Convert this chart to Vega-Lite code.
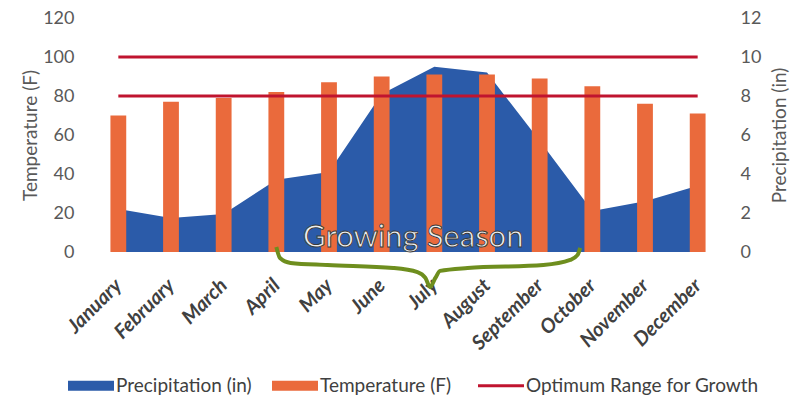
{
  "$schema": "https://vega.github.io/schema/vega-lite/v6.json",
  "width": 632,
  "height": 234,
  "autosize": "none",
  "padding": {"left": 92, "top": 18, "right": 75, "bottom": 151},
  "background": "white",
  "config": {
    "view": {"stroke": null},
    "font": "Lato",
    "axis": {"grid": false, "domain": false, "ticks": false}
  },
  "datasets": {
    "monthly": [
      {"month": "January", "precip": 2.2, "temp": 70, "optLow": 80, "optHigh": 100},
      {"month": "February", "precip": 1.75, "temp": 77, "optLow": 80, "optHigh": 100},
      {"month": "March", "precip": 1.95, "temp": 79, "optLow": 80, "optHigh": 100},
      {"month": "April", "precip": 3.7, "temp": 82, "optLow": 80, "optHigh": 100},
      {"month": "May", "precip": 4.1, "temp": 87, "optLow": 80, "optHigh": 100},
      {"month": "June", "precip": 8.1, "temp": 90, "optLow": 80, "optHigh": 100},
      {"month": "July", "precip": 9.5, "temp": 91, "optLow": 80, "optHigh": 100},
      {"month": "August", "precip": 9.2, "temp": 91, "optLow": 80, "optHigh": 100},
      {"month": "September", "precip": 5.7, "temp": 89, "optLow": 80, "optHigh": 100},
      {"month": "October", "precip": 2.1, "temp": 85, "optLow": 80, "optHigh": 100},
      {"month": "November", "precip": 2.6, "temp": 76, "optLow": 80, "optHigh": 100},
      {"month": "December", "precip": 3.4, "temp": 71, "optLow": 80, "optHigh": 100}
    ],
    "brace": [
      {"i": 3.0, "t": 2.6},
      {"i": 3.07, "t": -3.1},
      {"i": 3.27, "t": -5.6},
      {"i": 3.97, "t": -6.7},
      {"i": 5.22, "t": -8.2},
      {"i": 5.68, "t": -10.3},
      {"i": 5.83, "t": -13.3},
      {"i": 5.92, "t": -17.9},
      {"i": 6.02, "t": -13.3},
      {"i": 6.11, "t": -9.7},
      {"i": 6.63, "t": -8.2},
      {"i": 8.07, "t": -6.7},
      {"i": 8.58, "t": -4.1},
      {"i": 8.72, "t": -1.5},
      {"i": 8.77, "t": 2.1}
    ],
    "note": [
      {"i": 5.6, "t": 7, "label": "Growing Season"}
    ]
  },
  "layer": [
    {
      "data": {"name": "monthly"},
      "mark": {"type": "area"},
      "encoding": {
        "x": {
          "field": "month", "type": "nominal", "sort": null,
          "scale": {"paddingInner": 0.7, "paddingOuter": 0.35},
          "axis": {
            "title": null, "labelAngle": -45, "labelFontSize": 20,
            "labelFontWeight": "bold", "labelFontStyle": "italic",
            "labelColor": "#404040", "labelBaseline": "middle", "labelPadding": 30
          }
        },
        "y": {
          "field": "precip", "type": "quantitative",
          "scale": {"domain": [0, 12]},
          "axis": {
            "orient": "right", "values": [0, 2, 4, 6, 8, 10, 12],
            "title": "Precipitation (in)", "titleFontSize": 19, "titleFontWeight": "normal",
            "titleColor": "#595959", "titleAngle": -90, "titleBaseline": "top",
            "labelFontSize": 18, "labelColor": "#595959",
            "labelPadding": 16, "titlePadding": 10
          }
        },
        "color": {
          "datum": "Precipitation (in)",
          "scale": {
            "domain": ["Precipitation (in)", "Temperature (F)", "Optimum Range for Growth"],
            "range": ["#2B5BA9", "#EA6A3C", "#C0142F"]
          },
          "legend": {
            "title": null, "orient": "none", "legendX": -24, "legendY": 358,
            "direction": "horizontal",
            "labelFontSize": 19, "labelColor": "#404040", "labelLimit": 400,
            "symbolSize": 2116, "columnPadding": 20,
            "encode": {
              "symbols": {
                "update": {
                  "x": {"value": 23},
                  "shape": {"signal": "datum.value === 'Optimum Range for Growth' ? 'M-1,0H1' : 'M-1,-0.22H1V0.22H-1Z'"},
                  "fill": {"scale": "color", "field": "value"},
                  "stroke": {"scale": "color", "field": "value"},
                  "strokeWidth": {"signal": "datum.value === 'Optimum Range for Growth' ? 3 : 0"},
                  "opacity": {"value": 1},
                  "size": {"value": 2116}
                }
              },
              "labels": {
                "update": {
                  "x": {"value": 48}
                }
              }
            }
          }
        }
      }
    },
    {
      "data": {"name": "monthly"},
      "mark": {"type": "bar"},
      "encoding": {
        "x": {
          "field": "month", "type": "nominal", "sort": null,
          "scale": {"paddingInner": 0.7, "paddingOuter": 0.35},
          "axis": null
        },
        "y": {
          "field": "temp", "type": "quantitative",
          "scale": {"domain": [0, 120]},
          "axis": {
            "orient": "left", "values": [0, 20, 40, 60, 80, 100, 120],
            "title": "Temperature (F)", "titleFontSize": 19, "titleFontWeight": "normal",
            "titleColor": "#595959", "labelFontSize": 18, "labelColor": "#595959",
            "labelPadding": 18, "titlePadding": 2
          }
        },
        "color": {"datum": "Temperature (F)"}
      }
    },
    {
      "data": {"name": "monthly"},
      "mark": {"type": "line", "strokeWidth": 3},
      "encoding": {
        "x": {
          "field": "month", "type": "nominal", "sort": null,
          "scale": {"paddingInner": 0.7, "paddingOuter": 0.35},
          "axis": null
        },
        "y": {"field": "optLow", "type": "quantitative", "scale": {"domain": [0, 120]}, "axis": null},
        "color": {"datum": "Optimum Range for Growth"}
      }
    },
    {
      "data": {"name": "monthly"},
      "mark": {"type": "line", "strokeWidth": 3},
      "encoding": {
        "x": {
          "field": "month", "type": "nominal", "sort": null,
          "scale": {"paddingInner": 0.7, "paddingOuter": 0.35},
          "axis": null
        },
        "y": {"field": "optHigh", "type": "quantitative", "scale": {"domain": [0, 120]}, "axis": null},
        "color": {"datum": "Optimum Range for Growth"}
      }
    },
    {
      "data": {"name": "brace"},
      "mark": {"type": "line", "interpolate": "monotone", "color": "#6E8E1E", "strokeWidth": 4},
      "encoding": {
        "x": {"field": "i", "type": "quantitative", "scale": {"domain": [-0.5, 11.5], "nice": false, "zero": false}, "axis": null},
        "y": {"field": "t", "type": "quantitative", "scale": {"domain": [0, 120], "nice": false}, "axis": null}
      }
    },
    {
      "data": {"name": "note"},
      "mark": {"type": "text", "fontSize": 31, "fill": "#EEEEEE", "stroke": "#3A3A3A", "strokeWidth": 0.9, "baseline": "middle", "align": "center"},
      "encoding": {
        "x": {"field": "i", "type": "quantitative", "scale": {"domain": [-0.5, 11.5], "nice": false, "zero": false}, "axis": null},
        "y": {"field": "t", "type": "quantitative", "scale": {"domain": [0, 120], "nice": false}, "axis": null},
        "text": {"field": "label"}
      }
    }
  ],
  "resolve": {"scale": {"x": "independent", "y": "independent"}}
}
